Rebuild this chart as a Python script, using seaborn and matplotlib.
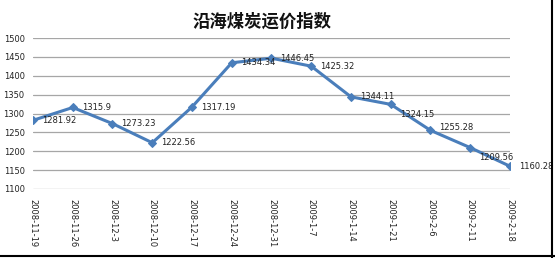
import matplotlib
matplotlib.use("Agg")
import matplotlib.pyplot as plt
import seaborn as sns
import pandas as pd
from matplotlib.lines import Line2D

dates = ["2008-11-19", "2008-11-26", "2008-12-3", "2008-12-10", "2008-12-17",
         "2008-12-24", "2008-12-31", "2009-1-7", "2009-1-14", "2009-1-21",
         "2009-2-6", "2009-2-11", "2009-2-18"]
values = [1281.92, 1315.9, 1273.23, 1222.56, 1317.19, 1434.34, 1446.45,
          1425.32, 1344.11, 1324.15, 1255.28, 1209.56, 1160.28]
yticks = [1100, 1150, 1200, 1250, 1300, 1350, 1400, 1450, 1500]
title = "沿海煤炭运价指数"

sns.set_theme(style="white")
plt.rcParams['font.family'] = ['DejaVu Sans']

df = pd.DataFrame({"idx": range(len(dates)), "date": dates, "value": values})

fig = plt.figure(figsize=(5.55, 2.58), dpi=100)
ax = fig.add_axes([33/555, 1-189/258, (510-33)/555, (189-38)/258])

color = "#4A7EBB"
sns.lineplot(data=df, x="idx", y="value", ax=ax, color=color, linewidth=2.2,
             marker="D", markersize=4.5, markeredgecolor=color, zorder=3)

ax.set_xlim(0, len(dates) - 1)
ax.set_ylim(yticks[0], yticks[-1])
ax.set_yticks(yticks)
ax.set_yticklabels([str(t) for t in yticks], fontsize=6, color="#222222")
ax.set_xticks(range(len(dates)))
ax.set_xticklabels(dates, rotation=-90, fontsize=6, color="#222222", va="top")
ax.tick_params(axis="both", length=0, pad=6)
ax.tick_params(axis="x", pad=7)
ax.set_xlabel("")
ax.set_ylabel("")
ax.grid(axis="y", color="#A6A6A6", linewidth=0.9)
ax.grid(axis="x", visible=False)
for s in ax.spines.values():
    s.set_visible(False)

nudge = {9: -7, 11: -7, 10: 2}
for i, v in enumerate(values):
    ax.annotate(f"{v:g}" if v != 1315.9 else "1315.9", (i, v), xytext=(6.5, nudge.get(i, 0)),
                textcoords="offset points", fontsize=6, color="#222222",
                ha="left", va="center", zorder=4)

fig.text(262/555, 1-22/258, title, fontsize=12.5, fontweight="bold",
         family=["Noto Sans CJK SC", "DejaVu Sans"], ha="center", va="center",
         color="#111111")

fig.add_artist(Line2D([551.5/555, 551.5/555], [0, 1], transform=fig.transFigure,
                      color="black", linewidth=1.5))
fig.add_artist(Line2D([0, 1], [1-255.5/258, 1-255.5/258], transform=fig.transFigure,
                      color="black", linewidth=1.5))

fig.savefig("out.png", dpi=100)
